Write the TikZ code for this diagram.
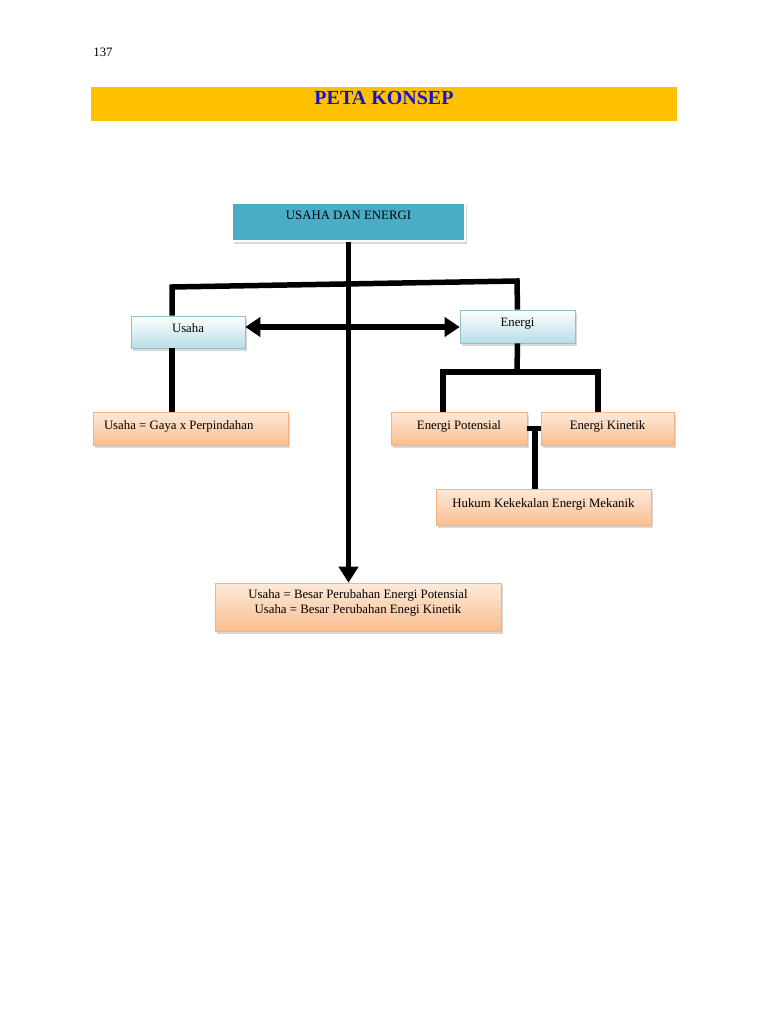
\documentclass[tikz,border=0pt]{standalone}
\usepackage{fontspec}
\setmainfont{Liberation Serif}
\usetikzlibrary{arrows.meta,shadows}

\definecolor{barkuning}{RGB}{255,192,0}
\definecolor{judulbiru}{RGB}{20,20,200}
\definecolor{kotakbiru}{RGB}{75,172,198}
\definecolor{birumuda}{RGB}{183,222,232}
\definecolor{garisbiru}{RGB}{150,190,205}
\definecolor{oranye}{RGB}{249,190,143}
\definecolor{oranyemuda}{RGB}{253,233,217}
\definecolor{garisoranye}{RGB}{244,177,131}

\begin{document}
\begin{tikzpicture}[x=1pt,y=-1pt,
  font=\fontsize{12.8}{15}\selectfont,
  bayang/.style={drop shadow={shadow xshift=2pt,shadow yshift=-2.5pt,fill=black!30}},
  utama/.style={bayang,fill=kotakbiru,draw=white,line width=1.5pt,text height=8pt,text depth=13.6pt},
  kotakb/.style={bayang,top color=white,bottom color=birumuda,draw=garisbiru,line width=.6pt,text height=8pt,text depth=9pt},
  kotako/.style={bayang,top color=oranyemuda,bottom color=oranye,draw=garisoranye,line width=.6pt,text height=8pt,text depth=7pt},
  garis/.style={line width=5.5pt,line join=miter},
  panah/.style={garis,-{Triangle[length=16pt,width=19pt]}},
  panah2/.style={garis,{Triangle[length=15pt,width=19pt]}-{Triangle[length=15pt,width=19pt]}}]

\useasboundingbox (0,0) rectangle (768,1024);

% judul
\node (hal) at (103,52) {137};
\fill[barkuning] (91,87) rectangle (677,121);
\node[text=judulbiru,font=\fontsize{20}{24}\selectfont\bfseries] (judul) at (384,97.5) {PETA KONSEP};

% kotak-kotak
\node[utama,minimum width=233pt,minimum height=38pt] (ue) at (348.5,222) {USAHA DAN ENERGI};
\node[kotakb,minimum width=114pt,minimum height=32pt,text depth=8pt] (usaha) at (188,332) {Usaha};
\node[kotakb,minimum width=115pt,minimum height=33pt] (energi) at (517.5,326.5) {Energi};
\node[kotako,minimum width=195pt,minimum height=33pt,text width=173pt,inner xsep=11pt,align=flush left] (gaya) at (190.5,428.5) {Usaha = Gaya x Perpindahan};
\node[kotako,minimum width=136pt,minimum height=33pt] (ep) at (459,428.5) {Energi Potensial};
\node[kotako,minimum width=133pt,minimum height=33pt] (ek) at (607.5,428.5) {Energi Kinetik};
\node[kotako,minimum width=215pt,minimum height=36pt,text depth=9pt] (hukum) at (543.5,507.5) {Hukum Kekekalan Energi Mekanik};
\node[kotako,minimum width=286pt,minimum height=48pt,align=center,text height=12pt,text depth=0pt] (besar) at (358,607)
  {Usaha = Besar Perubahan Energi Potensial\\Usaha = Besar Perubahan Enegi Kinetik};

% garis
\coordinate (kiri) at (172,287);
\coordinate (kanan) at (517,281);
\draw[garis] (kiri |- usaha.north) -- (kiri) -- (kanan) -- (energi.north);
\draw[garis] (usaha.south -| kiri) -- (gaya.north -| kiri);
\draw[panah] (ue.south) -- (ue.south |- besar.north);
\draw[panah2] (usaha.east |- 0,327) -- (energi.west |- 0,327);

\coordinate (cabang) at (517,372);
\draw[garis] (energi.south) -- (cabang);
\draw[garis] (ep.north -| 443,0) -- (443,372) -- (598,372) -- (ek.north -| 598,0);
\draw[garis] (ep.east) -- (ek.west);
\draw[garis] (535,428.5) -- (hukum.north -| 535,0);
\end{tikzpicture}
\end{document}
